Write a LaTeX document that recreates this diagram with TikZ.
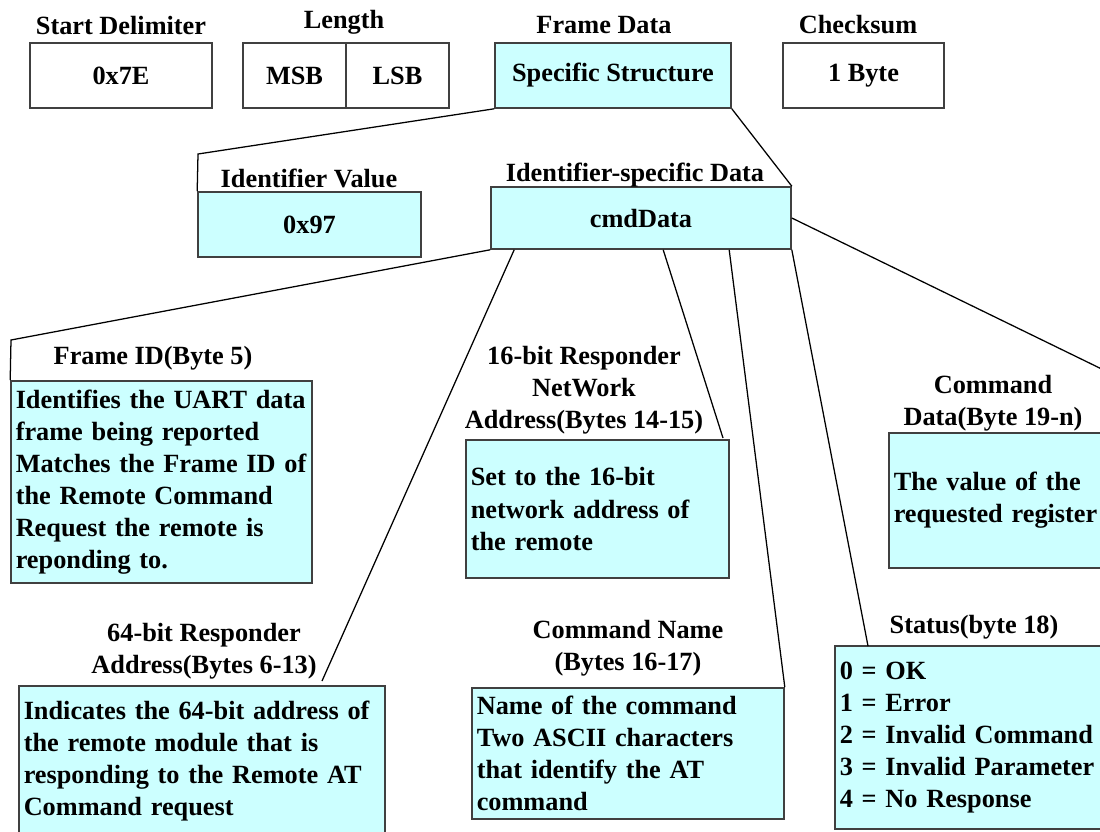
\documentclass[tikz,border=0pt]{standalone}
\usepackage{fontspec}
\setmainfont{Liberation Serif}
\usetikzlibrary{calc}
\definecolor{boxfill}{HTML}{CCFFFF}
\definecolor{boxline}{HTML}{404040}
\tikzset{
  every node/.style={font=\fontsize{18.7}{22.8}\selectfont\bfseries, text=black},
  field/.style={draw=boxline, line width=1.1pt, inner sep=0pt, minimum height=1.625cm},
  fieldc/.style={field, fill=boxfill},
  desc/.style={draw=boxline, line width=1.1pt, fill=boxfill, align=left, inner xsep=0.12cm, inner ysep=0pt},
  lbl/.style={align=center, inner sep=0pt},
  link/.style={line width=0.9pt}
}
\begin{document}
\begin{tikzpicture}[x=0.025cm,y=-0.025cm]
  \path[use as bounding box] (0,0) rectangle (1100,831);
  \clip (0,0) rectangle (1100,831);
  % frame fields
  \node[field, minimum width=4.55cm] (sdbox) at (121,75.5) {0x7E};
  \node[field, minimum width=2.575cm] (msbbox) at (294.5,75.5) {MSB};
  \node[field, minimum width=2.575cm] (lsbbox) at (397.5,75.5) {LSB};
  \node[fieldc, minimum width=5.9cm] (fdbox) at (613,75.5) {Specific Structure};
  \node[field, minimum width=4.025cm] (csbox) at (863.5,75.5) {1 Byte};
  \node[lbl] (sdlbl) at (121,25) {Start Delimiter};
  \node[lbl] (lenlbl) at (344,22) {Length};
  \node[lbl] (fdlbl) at (604,25) {Frame Data};
  \node[lbl] (cslbl) at (858,25) {Checksum};
  % frame data
  \node[fieldc, minimum width=5.575cm] (idvbox) at (309.5,224.5) {0x97};
  \node[fieldc, minimum width=7.5cm, minimum height=1.55cm] (cmdbox) at (641,218) {cmdData};
  \node[lbl] (idvlbl) at (309,178) {Identifier Value};
  \node[lbl] (cmdlbl) at (635,175) {Identifier-specific Data};
  % cmdData fields
  \node[desc, text width=7.285cm, minimum height=5.05cm] (fidbox) at (161.5,482)
    {Identifies the UART data\\frame being reported\\Matches the Frame ID of\\the Remote Command\\Request the remote is\\reponding to.};
  \node[desc, text width=6.335cm, minimum height=3.45cm] (addr16box) at (597.5,509)
    {Set to the 16-bit\\network address of\\the remote};
  \node[desc, text width=5.535cm, minimum height=3.375cm] (cdatabox) at (1004.5,500.5)
    {The value of the\\requested register};
  \node[desc, text width=8.91cm, minimum height=3.75cm] (addr64box) at (202,761)
    {Indicates the 64-bit address of\\the remote module that is\\responding to the Remote AT\\Command request};
  \node[desc, text width=7.56cm, minimum height=3.275cm] (cnamebox) at (628,753.5)
    {Name of the command\\Two ASCII characters\\that identify the AT\\command};
  \node[desc, text width=6.635cm, minimum height=4.575cm] (statbox) at (972.5,737.5)
    {0 = OK\\1 = Error\\2 = Invalid Command\\3 = Invalid Parameter\\4 = No Response};
  \node[lbl] (fidlbl) at (153,358) {Frame ID(Byte 5)};
  \node[lbl] (addr16lbl) at (584,390) {16-bit Responder\\NetWork\\Address(Bytes 14-15)};
  \node[lbl] (cdatalbl) at (993,403) {Command\\Data(Byte 19-n)};
  \node[lbl] (addr64lbl) at (204,651) {64-bit Responder\\Address(Bytes 6-13)};
  \node[lbl] (cnamelbl) at (628,648) {Command Name\\(Bytes 16-17)};
  \node[lbl] (statlbl) at (974,627) {Status(byte 18)};
  % connectors
  \coordinate (bend1) at (198,154);
  \coordinate (bend2) at (11,340);
  \coordinate (end64) at (322,681);
  \coordinate (end16) at (723,438);
  \coordinate (endstat) at (868,646);
  \coordinate (enddata) at (1233,433);
  \draw[link] (fdbox.south west) -- (bend1) -- (idvbox.north west);
  \draw[link] (fdbox.south east) -- (cmdbox.north east);
  \draw[link] (cmdbox.south west) -- (bend2) -- (fidbox.north west);
  \draw[link] ($(cmdbox.south west)+(24,0)$) -- (end64);
  \draw[link] ($(cmdbox.south west)+(173,0)$) -- (end16);
  \draw[link] ($(cmdbox.south west)+(239,0)$) -- (cnamebox.north east);
  \draw[link] (cmdbox.south east) -- (endstat);
  \draw[link] (cmdbox.east) -- (enddata);
\end{tikzpicture}
\end{document}
